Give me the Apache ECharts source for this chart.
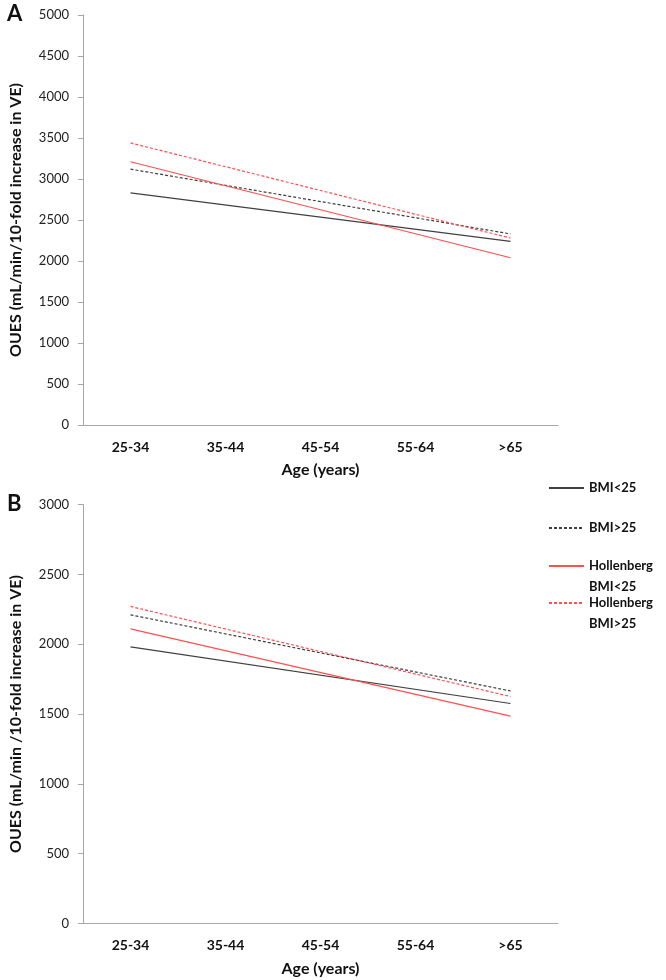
<!DOCTYPE html>
<html>
<head>
<meta charset="utf-8">
<script src="https://cdn.jsdelivr.net/npm/echarts@6/dist/echarts.min.js"></script>
<style>
  html, body { margin: 0; padding: 0; background: #fff; }
  #chart { width: 666px; height: 980px; }
</style>
</head>
<body>
<div id="chart"></div>
<script>
  // age groups on both panels
  var ageGroups = ['25-34', '35-44', '45-54', '55-64', '>65'];

  // panel A (only the end points are drawn, the line joins them)
  var aBmiUnder25 = [2830, null, null, null, 2240];
  var aBmiOver25 = [3120, null, null, null, 2330];
  var aHollUnder25 = [3210, null, null, null, 2040];
  var aHollOver25 = [3440, null, null, null, 2280];

  // panel B
  var bBmiUnder25 = [1980, null, null, null, 1575];
  var bBmiOver25 = [2210, null, null, null, 1665];
  var bHollUnder25 = [2110, null, null, null, 1485];
  var bHollOver25 = [2270, null, null, null, 1625];

  var names = ['BMI<25', 'BMI>25', 'Hollenberg BMI<25', 'Hollenberg BMI>25'];

  var font = 'Lato, "Open Sans", sans-serif';
  var grey = '#404040';
  var red = '#ff4f4f';
  var axisGrey = '#a6a6a6';

  function lineSeries(name, data, axisIdx, color, dashed) {
    return {
      name: name,
      type: 'line',
      xAxisIndex: axisIdx,
      yAxisIndex: axisIdx,
      data: data,
      connectNulls: true,
      showSymbol: false,
      symbolSize: 0,
      silent: true,
      lineStyle: { color: color, width: 1.2, type: dashed ? [3, 2] : 'solid' },
      itemStyle: { color: color }
    };
  }

  function xAxisOf(gridIdx) {
    return {
      type: 'category',
      gridIndex: gridIdx,
      data: ageGroups,
      boundaryGap: true,
      name: 'Age (years)',
      nameLocation: 'middle',
      nameGap: 37,
      nameTextStyle: { fontFamily: font, fontSize: 16, fontWeight: 'bold', color: '#111' },
      axisLine: { lineStyle: { color: axisGrey } },
      axisTick: { length: 5, lineStyle: { color: axisGrey } },
      axisLabel: { fontFamily: font, fontSize: 14, fontWeight: 'bold', color: '#111', margin: 15 }
    };
  }

  function yAxisOf(gridIdx, max, title) {
    return {
      type: 'value',
      gridIndex: gridIdx,
      min: 0,
      max: max,
      interval: 500,
      name: title,
      nameLocation: 'middle',
      nameGap: 59,
      nameTextStyle: { fontFamily: font, fontSize: 16, fontWeight: 'bold', color: '#111' },
      splitLine: { show: false },
      axisLine: { show: true, lineStyle: { color: axisGrey } },
      axisTick: { show: true, length: 5, lineStyle: { color: axisGrey } },
      axisLabel: {
        fontFamily: font, fontSize: 13, color: '#222', margin: 14,
        formatter: function (v) { return String(v); }
      }
    };
  }

  function legendOf(name, top, label) {
    return {
      orient: 'vertical',
      left: 548,
      top: top,
      padding: 0,
      itemWidth: 35,
      itemHeight: 10,
      itemGap: 0,
      data: [name],
      selectedMode: false,
      itemStyle: { opacity: 0 },
      formatter: function () { return label; },
      textStyle: { fontFamily: font, fontSize: 13, fontWeight: 'bold', color: '#111', lineHeight: 21 }
    };
  }

  var chart = echarts.init(document.getElementById('chart'), null, { renderer: 'canvas' });
  chart.setOption({
    animation: false,
    backgroundColor: '#fff',
    title: [
      { text: 'A', left: 7, top: 3, padding: 0, textStyle: { fontFamily: font, fontSize: 22, fontWeight: 'bold', color: '#111' } },
      { text: 'B', left: 7, top: 493, padding: 0, textStyle: { fontFamily: font, fontSize: 22, fontWeight: 'bold', color: '#111' } }
    ],
    grid: [
      { left: 81, top: 15, width: 477, height: 410 },
      { left: 81, top: 504.5, width: 477, height: 419 }
    ],
    xAxis: [xAxisOf(0), xAxisOf(1)],
    yAxis: [
      yAxisOf(0, 5000, 'OUES (mL/min/10-fold increase in VE)'),
      yAxisOf(1, 3000, 'OUES (mL/min /10-fold increase in VE)')
    ],
    legend: [
      legendOf(names[0], 477.5, 'BMI<25'),
      legendOf(names[1], 517.5, 'BMI>25'),
      legendOf(names[2], 534.5, ' \nHollenberg\nBMI<25'),
      legendOf(names[3], 571.5, ' \nHollenberg\nBMI>25')
    ],
    series: [
      lineSeries(names[0], aBmiUnder25, 0, grey, false),
      lineSeries(names[1], aBmiOver25, 0, grey, true),
      lineSeries(names[2], aHollUnder25, 0, red, false),
      lineSeries(names[3], aHollOver25, 0, red, true),
      lineSeries(names[0], bBmiUnder25, 1, grey, false),
      lineSeries(names[1], bBmiOver25, 1, grey, true),
      lineSeries(names[2], bHollUnder25, 1, red, false),
      lineSeries(names[3], bHollOver25, 1, red, true)
    ]
  });
</script>
</body>
</html>
